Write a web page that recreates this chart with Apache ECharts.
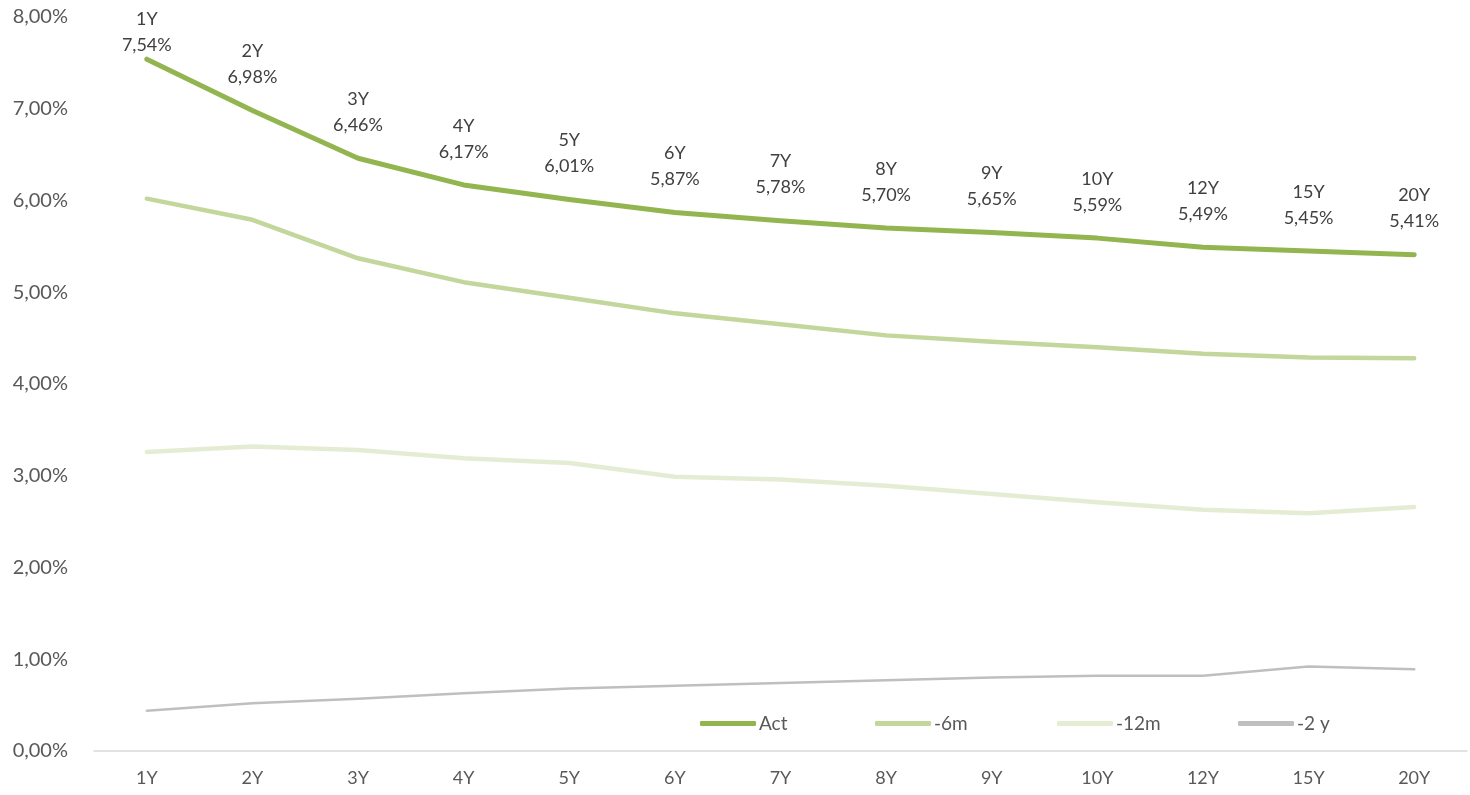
<!DOCTYPE html>
<html>
<head>
<meta charset="utf-8">
<script src="https://cdn.jsdelivr.net/npm/echarts@6/dist/echarts.min.js"></script>
<style>
html,body{margin:0;padding:0;background:#fff;}
#c{width:1470px;height:795px;}
</style>
</head>
<body>
<div id="c"></div>
<script>
var categories = ['1Y','2Y','3Y','4Y','5Y','6Y','7Y','8Y','9Y','10Y','12Y','15Y','20Y'];
var seriesNames = ['Act','-6m','-12m','-2 y'];
var act = [7.54,6.98,6.46,6.17,6.01,5.87,5.78,5.70,5.65,5.59,5.49,5.45,5.41];
var m6 = [6.02,5.79,5.37,5.11,4.94,4.77,4.65,4.53,4.46,4.40,4.33,4.29,4.28];
var m12 = [3.26,3.32,3.28,3.19,3.14,2.99,2.96,2.89,2.80,2.71,2.63,2.59,2.66];
var y2 = [0.44,0.52,0.57,0.63,0.68,0.71,0.74,0.77,0.80,0.82,0.82,0.92,0.89];

var FONT = 'Lato';
function pct(v){ return v.toFixed(2).replace('.', ',') + '%'; }

var actData = act.map(function(v, i){
  var item = {value: v};
  if (i === 0) item.label = {distance: 0};
  return item;
});

var legendLefts = [695, 870, 1052, 1233];
var legends = seriesNames.map(function(n, i){
  return {
    left: legendLefts[i], top: 709,
    icon: 'roundRect',
    itemWidth: 56, itemHeight: 5, itemGap: 0,
    textStyle: {fontFamily: FONT, fontSize: 19, color: '#595959', padding: [0,0,0,-2]},
    data: [n]
  };
});

var chart = echarts.init(document.getElementById('c'));
chart.setOption({
  animation: false,
  backgroundColor: '#fff',
  grid: {left: 94, right: 3, top: 17, bottom: 44, containLabel: false},
  legend: legends,
  xAxis: {
    type: 'category',
    data: categories,
    boundaryGap: true,
    axisLine: {lineStyle: {color: '#D9D9D9', width: 1.5}},
    axisTick: {show: false},
    axisLabel: {fontFamily: FONT, fontSize: 18, color: '#595959', margin: 18}
  },
  yAxis: {
    type: 'value',
    min: 0, max: 8, interval: 1,
    splitLine: {show: false},
    axisLine: {show: false},
    axisTick: {show: false},
    axisLabel: {fontFamily: FONT, fontSize: 20, color: '#595959', margin: 26, formatter: function(v){ return pct(v); }}
  },
  series: [
    {
      name: seriesNames[0], type: 'line', data: actData, z: 5,
      symbol: 'circle', symbolSize: 2,
      itemStyle: {color: '#92B550'},
      lineStyle: {color: '#92B550', width: 5, cap: 'round', join: 'round'},
      label: {
        show: true, position: 'top', distance: 19,
        fontFamily: FONT, fontSize: 18, color: '#404040', lineHeight: 26, align: 'center',
        formatter: function(p){ return p.name + '\n' + pct(p.value); }
      }
    },
    {
      name: seriesNames[1], type: 'line', data: m6, z: 4,
      symbol: 'none',
      itemStyle: {color: '#C3D69B'},
      lineStyle: {color: '#C3D69B', width: 4.5, cap: 'round', join: 'round'}
    },
    {
      name: seriesNames[2], type: 'line', data: m12, z: 3,
      symbol: 'none',
      itemStyle: {color: '#E4EDD4'},
      lineStyle: {color: '#E4EDD4', width: 4.5, cap: 'round', join: 'round'}
    },
    {
      name: seriesNames[3], type: 'line', data: y2, z: 2,
      symbol: 'none',
      itemStyle: {color: '#BFBFBF'},
      lineStyle: {color: '#BFBFBF', width: 2.5, cap: 'round', join: 'round'}
    }
  ]
});
</script>
</body>
</html>
